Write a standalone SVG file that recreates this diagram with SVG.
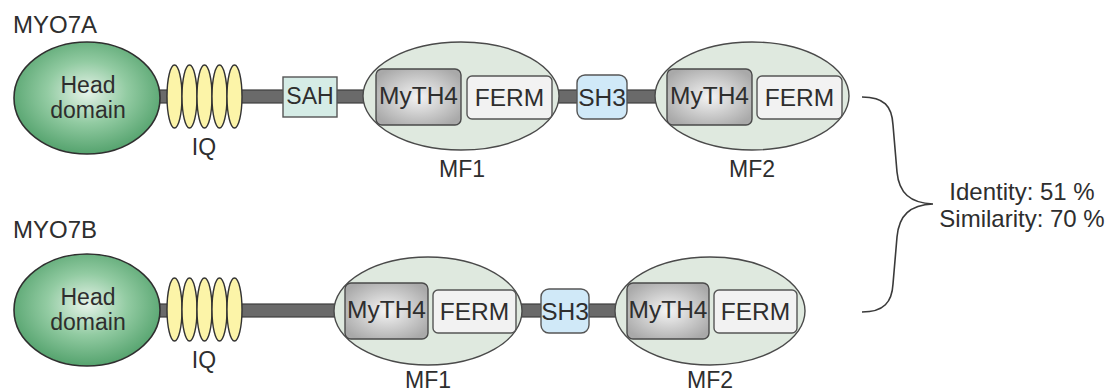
<svg xmlns="http://www.w3.org/2000/svg" width="1112" height="392" viewBox="0 0 1112 392">
<defs>
<radialGradient id="gHead" cx="50%" cy="45%" r="55%">
<stop offset="0" stop-color="#e6f3e9"/>
<stop offset="0.5" stop-color="#92cba2"/>
<stop offset="1" stop-color="#55a36e"/>
</radialGradient>
<radialGradient id="gMy" cx="50%" cy="50%" r="60%">
<stop offset="0" stop-color="#f4f4f4"/>
<stop offset="1" stop-color="#a9a9a9"/>
</radialGradient>
<style>
text{font-family:"Liberation Sans",Arial,sans-serif;fill:#2e2e2e;text-anchor:middle}
.lbl{font-size:24px;text-anchor:start}
.t{font-size:23px}
.b{font-size:24.5px}
.bar{fill:#6a6a6a;stroke:#3e3e3e;stroke-width:1.2}
.head{fill:url(#gHead);stroke:#2f2f2f;stroke-width:1.6}
.iq{fill:#fcf4a8;stroke:#333;stroke-width:1.4}
.sah{fill:#d5ece6;stroke:#555;stroke-width:1.4}
.mf{fill:#dfe9df;stroke:#4a4a4a;stroke-width:1.4}
.my{fill:url(#gMy);stroke:#4a4a4a;stroke-width:1.4}
.ferm{fill:#f2f2f2;stroke:#555;stroke-width:1.4}
.sh3{fill:#d0e9f8;stroke:#555;stroke-width:1.4}
.brace{fill:none;stroke:#3a3a3a;stroke-width:1.6}
</style>
</defs>

<g id="connectors">
<rect class="bar" x="150" y="90" width="510" height="13"/>
<rect class="bar" x="150" y="304" width="470" height="13"/>
<path class="brace" d="M862,97 C884,97 892,106 893,125 L897,172 C899,193 910,203 933,204 C910,205 899,215 897,237 L893,284 C892,302 884,312 862,312"/>
</g>

<g id="label-myo7a"><text class="lbl" x="13" y="33">MYO7A</text></g>
<g id="label-myo7b"><text class="lbl" x="13" y="238">MYO7B</text></g>

<g id="a-head">
<ellipse class="head" cx="87" cy="98" rx="73" ry="56"/>
<text class="t" x="88" y="93">Head</text>
<text class="t" x="88" y="118">domain</text>
</g>
<g id="a-iq">
<ellipse class="iq" cx="174.5" cy="96.5" rx="7.5" ry="31.5"/>
<ellipse class="iq" cx="189.5" cy="96.5" rx="7.5" ry="31.5"/>
<ellipse class="iq" cx="204.5" cy="96.5" rx="7.5" ry="31.5"/>
<ellipse class="iq" cx="219.5" cy="96.5" rx="7.5" ry="31.5"/>
<ellipse class="iq" cx="234.5" cy="96.5" rx="7.5" ry="31.5"/>
<text class="t" x="204" y="155">IQ</text>
</g>
<g id="a-sah">
<rect class="sah" x="283" y="77" width="54" height="40"/>
<text class="t" x="310" y="104">SAH</text>
</g>
<g id="a-mf1">
<ellipse class="mf" cx="461" cy="96" rx="98" ry="54"/>
<rect class="my" x="376" y="69" width="85" height="56" rx="6"/>
<text class="b" x="418.5" y="104">MyTH4</text>
<rect class="ferm" x="467" y="76" width="85" height="43" rx="5"/>
<text class="b" x="509.5" y="106">FERM</text>
<text class="t" x="462" y="177">MF1</text>
</g>
<g id="a-sh3">
<rect class="sh3" x="577" y="75" width="50" height="44" rx="8"/>
<text class="b" x="602" y="106">SH3</text>
</g>
<g id="a-mf2">
<ellipse class="mf" cx="752" cy="96" rx="97" ry="54"/>
<rect class="my" x="667" y="69" width="85" height="56" rx="6"/>
<text class="b" x="709.5" y="104">MyTH4</text>
<rect class="ferm" x="757" y="76" width="85" height="43" rx="5"/>
<text class="b" x="799.5" y="106">FERM</text>
<text class="t" x="752" y="177">MF2</text>
</g>

<g id="b-head">
<ellipse class="head" cx="87" cy="310" rx="73" ry="56"/>
<text class="t" x="88" y="305">Head</text>
<text class="t" x="88" y="330">domain</text>
</g>
<g id="b-iq">
<ellipse class="iq" cx="174.5" cy="309.5" rx="7.5" ry="31.5"/>
<ellipse class="iq" cx="189.5" cy="309.5" rx="7.5" ry="31.5"/>
<ellipse class="iq" cx="204.5" cy="309.5" rx="7.5" ry="31.5"/>
<ellipse class="iq" cx="219.5" cy="309.5" rx="7.5" ry="31.5"/>
<ellipse class="iq" cx="234.5" cy="309.5" rx="7.5" ry="31.5"/>
<text class="t" x="204" y="368">IQ</text>
</g>
<g id="b-mf1">
<ellipse class="mf" cx="428" cy="311" rx="94" ry="54"/>
<rect class="my" x="345" y="283" width="83" height="56" rx="6"/>
<text class="b" x="386.5" y="318">MyTH4</text>
<rect class="ferm" x="433" y="290" width="83" height="43" rx="5"/>
<text class="b" x="474.5" y="320">FERM</text>
<text class="t" x="428" y="388">MF1</text>
</g>
<g id="b-sh3">
<rect class="sh3" x="541" y="289" width="48" height="44" rx="8"/>
<text class="b" x="565" y="320">SH3</text>
</g>
<g id="b-mf2">
<ellipse class="mf" cx="710" cy="311" rx="95" ry="54"/>
<rect class="my" x="627" y="283" width="82" height="56" rx="6"/>
<text class="b" x="668" y="318">MyTH4</text>
<rect class="ferm" x="714" y="290" width="83" height="43" rx="5"/>
<text class="b" x="755.5" y="320">FERM</text>
<text class="t" x="710" y="388">MF2</text>
</g>

<g id="stats">
<text style="font-size:24px" x="1022" y="200">Identity: 51 %</text>
<text style="font-size:24px" x="1022" y="227">Similarity: 70 %</text>
</g>
</svg>
